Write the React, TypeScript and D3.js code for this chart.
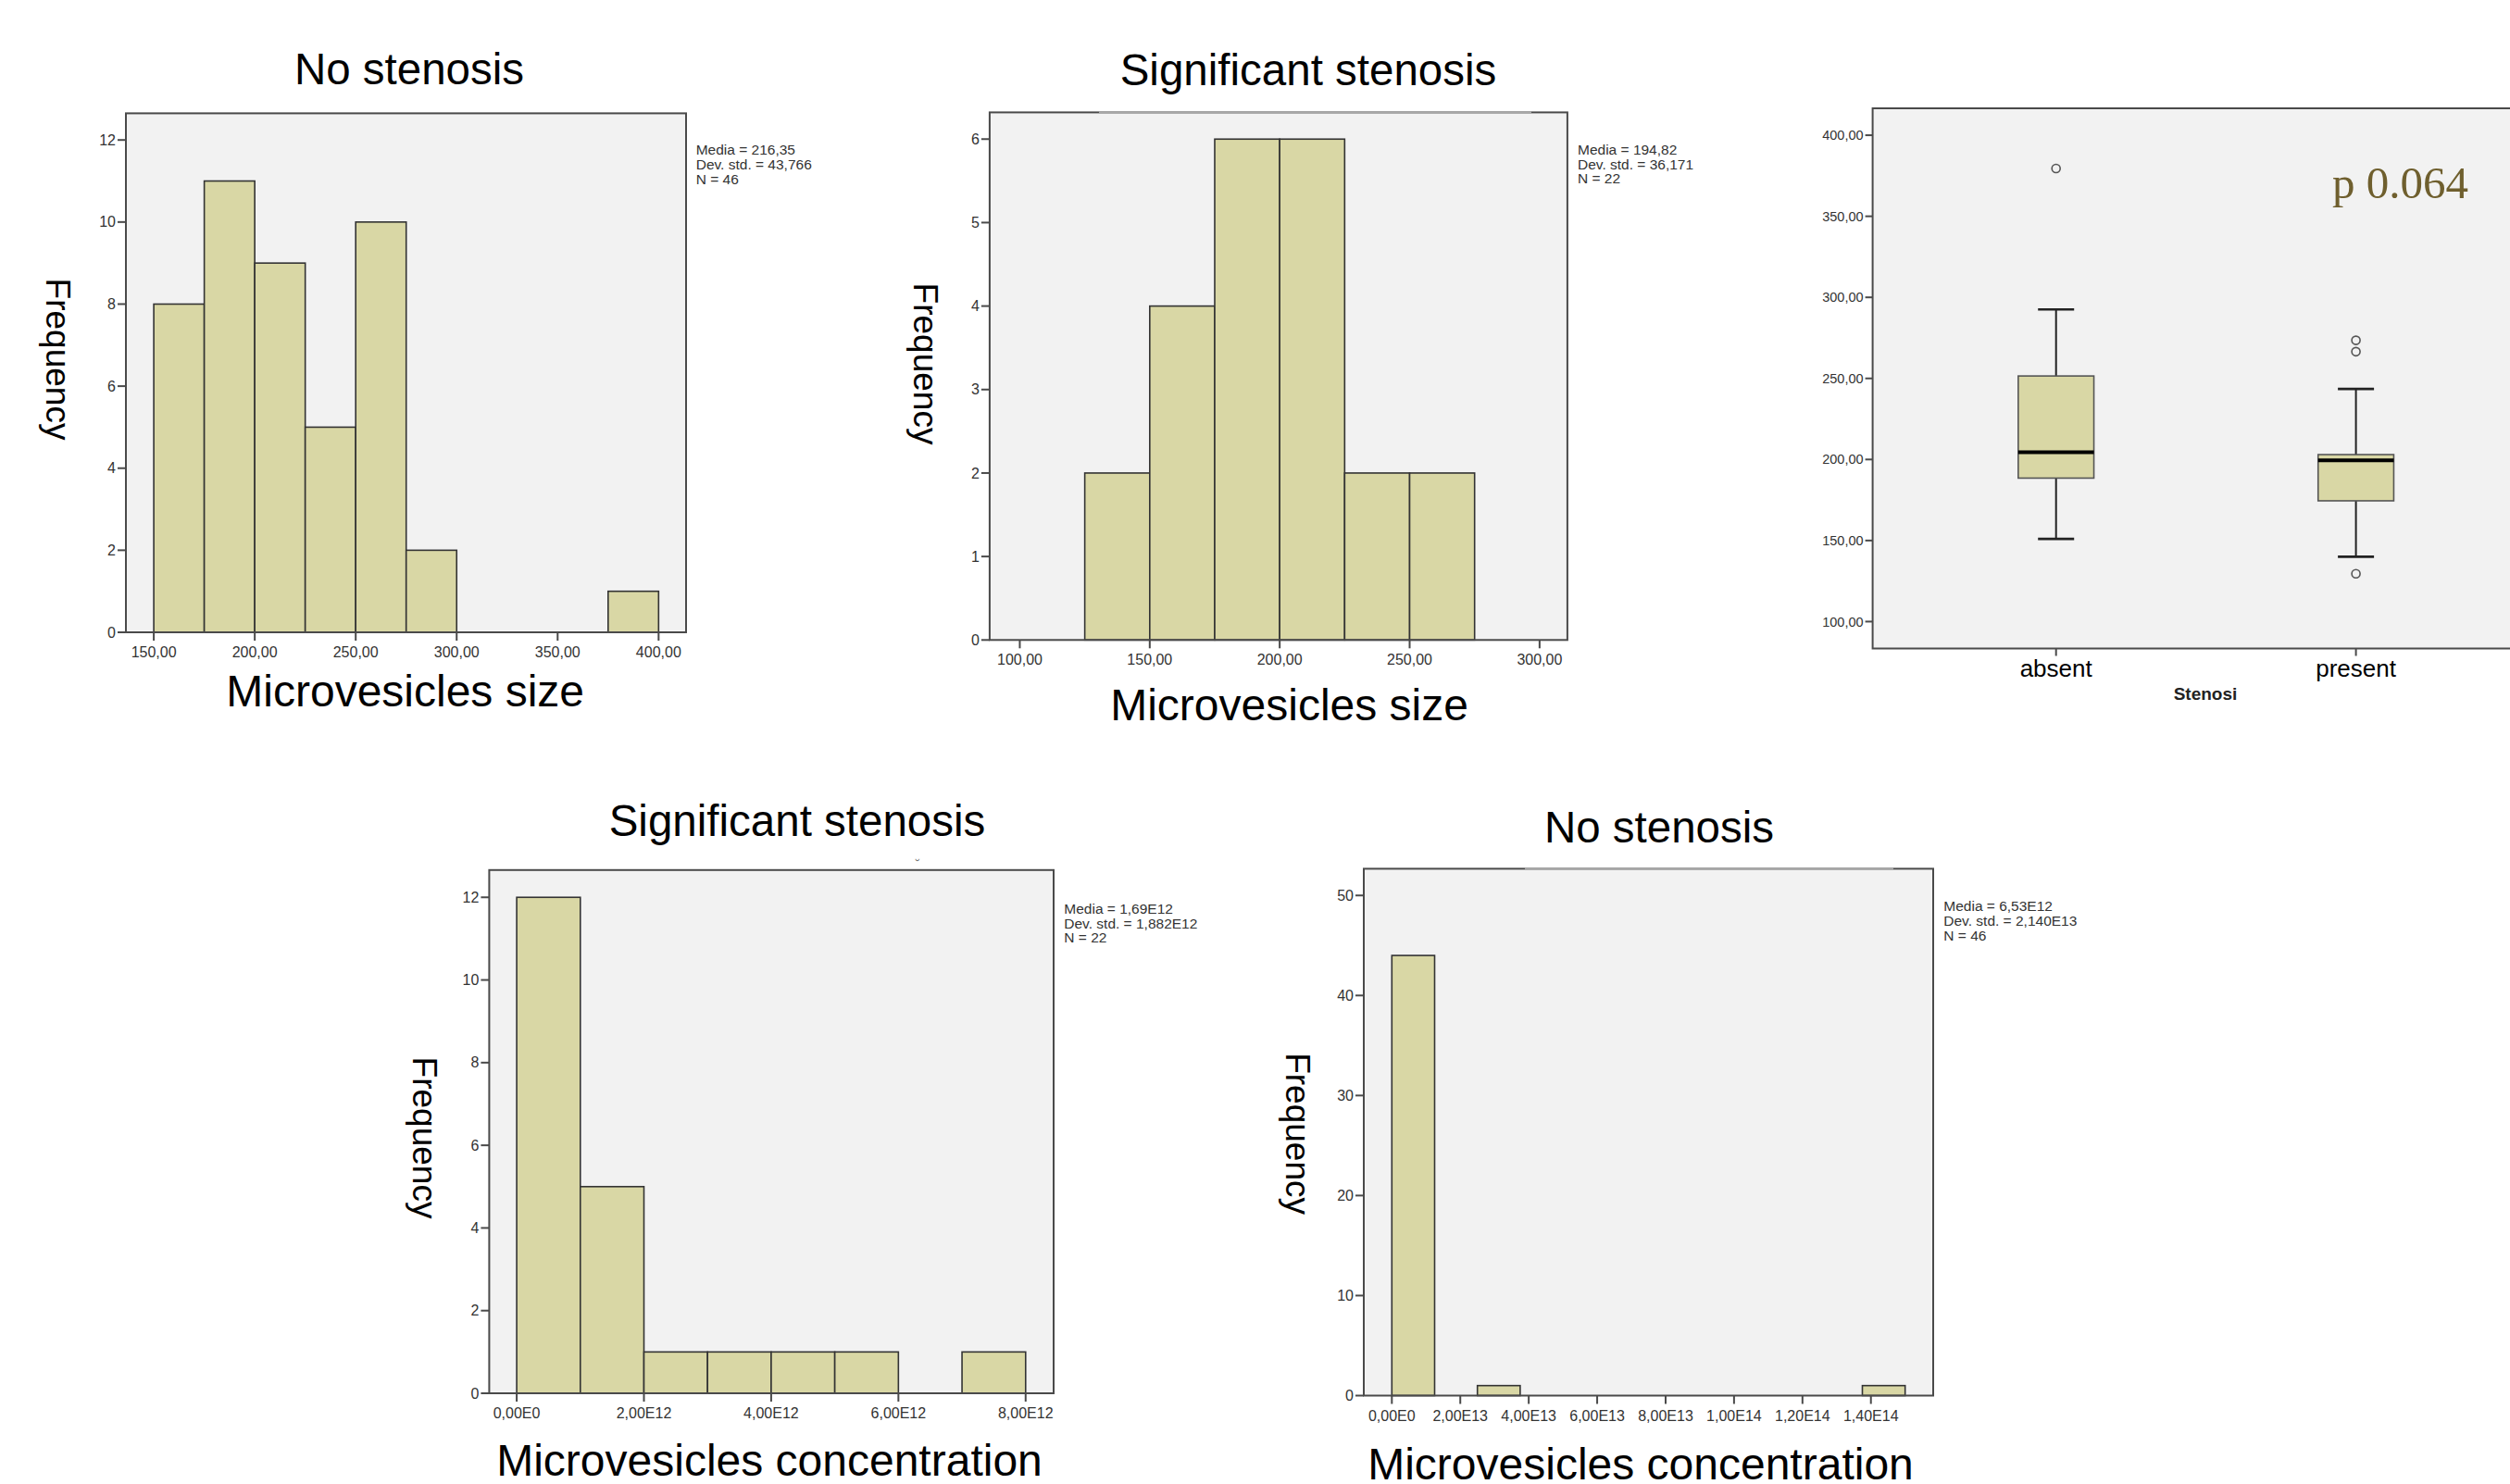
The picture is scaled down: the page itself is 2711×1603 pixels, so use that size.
import React from 'react';
import * as d3 from 'd3';

// --- data ---

// microvesicles size, no stenosis
const sizeNoStenosisEdges = [150, 175, 200, 225, 250, 275, 300, 325, 350, 375, 400];
const sizeNoStenosisCounts = [8, 11, 9, 5, 10, 2, 0, 0, 0, 1];
const sizeNoStenosisXTicks = [150, 200, 250, 300, 350, 400];
const sizeNoStenosisYTicks = [0, 2, 4, 6, 8, 10, 12];
const sizeNoStenosisStats = ['Media = 216,35', 'Dev. std. = 43,766', 'N = 46'];

// microvesicles size, significant stenosis
const sizeStenosisEdges = [125, 150, 175, 200, 225, 250, 275];
const sizeStenosisCounts = [2, 4, 6, 6, 2, 2];
const sizeStenosisXTicks = [100, 150, 200, 250, 300];
const sizeStenosisYTicks = [0, 1, 2, 3, 4, 5, 6];
const sizeStenosisStats = ['Media = 194,82', 'Dev. std. = 36,171', 'N = 22'];

// concentration, significant stenosis (units of 1E12)
const concStenosisEdges = [0, 1, 2, 3, 4, 5, 6, 7, 8];
const concStenosisCounts = [12, 5, 1, 1, 1, 1, 0, 1];
const concStenosisXTicks = [0, 2, 4, 6, 8];
const concStenosisXLabels = ['0,00E0', '2,00E12', '4,00E12', '6,00E12', '8,00E12'];
const concStenosisYTicks = [0, 2, 4, 6, 8, 10, 12];
const concStenosisStats = ['Media = 1,69E12', 'Dev. std. = 1,882E12', 'N = 22'];

// concentration, no stenosis (units of 1E13)
const concNoStenosisEdges = [0, 1.25, 2.5, 3.75, 5, 6.25, 7.5, 8.75, 10, 11.25, 12.5, 13.75, 15];
const concNoStenosisCounts = [44, 0, 1, 0, 0, 0, 0, 0, 0, 0, 0, 1];
const concNoStenosisXTicks = [0, 2, 4, 6, 8, 10, 12, 14];
const concNoStenosisXLabels = ['0,00E0', '2,00E13', '4,00E13', '6,00E13', '8,00E13', '1,00E14', '1,20E14', '1,40E14'];
const concNoStenosisYTicks = [0, 10, 20, 30, 40, 50];
const concNoStenosisStats = ['Media = 6,53E12', 'Dev. std. = 2,140E13', 'N = 46'];

// boxplot by stenosis
const stenosisGroups = ['absent', 'present'];
const boxMin = [151, 140];
const boxQ1 = [188.5, 174.5];
const boxMedian = [204.5, 199.5];
const boxQ3 = [251.5, 203];
const boxMax = [292.5, 243.5];
const boxOutliers = [[379.5], [273.5, 266.5, 129.5]];
const boxYTicks = [100, 150, 200, 250, 300, 350, 400];

const SANS = "'Liberation Sans', Arial, Helvetica, sans-serif";
const BAR_FILL = '#d9d7a5';
const PLOT_BG = '#f2f2f2';
const FRAME = '#4a4a4a';

const sizeLabel = (v: number) => `${v},00`;

type Layout = {
  left: number; right: number; top: number; bottom: number;
  xDomain: [number, number]; yMax: number;
  titleX: number; titleY: number;
  freqX: number; freqY: number;
  xTitleX: number; xTitleY: number;
  statsX: number; statsY: number;
  gap?: [number, number];
};

function Histogram(props: {
  layout: Layout; title: string; xTitle: string;
  edges: number[]; counts: number[];
  xTicks: number[]; xLabels: string[]; yTicks: number[]; stats: string[];
}) {
  const { layout: L, edges, counts, xTicks, xLabels, yTicks, stats } = props;
  const x = d3.scaleLinear().domain(L.xDomain).range([L.left, L.right]);
  const y = d3.scaleLinear().domain([0, L.yMax]).range([L.bottom, L.top]);
  const bins = counts
    .map((c, i) => ({ x0: edges[i], x1: edges[i + 1], c }))
    .filter(b => b.c > 0);

  return (
    <g fontFamily={SANS}>
      <rect x={L.left} y={L.top} width={L.right - L.left} height={L.bottom - L.top} fill={PLOT_BG} />
      {bins.map((b, i) => (
        <rect key={i} x={x(b.x0)} y={y(b.c)} width={x(b.x1) - x(b.x0)} height={y(0) - y(b.c)}
          fill={BAR_FILL} stroke="#333" strokeWidth={1.6} />
      ))}
      <rect x={L.left} y={L.top} width={L.right - L.left} height={L.bottom - L.top}
        fill="none" stroke={FRAME} strokeWidth={2} />
      {L.gap && (
        <line x1={L.gap[0]} x2={L.gap[1]} y1={L.top} y2={L.top} stroke="#a8a8a8" strokeWidth={2.2} />
      )}
      {yTicks.map(v => (
        <g key={'y' + v}>
          <line x1={L.left - 9} x2={L.left} y1={y(v)} y2={y(v)} stroke={FRAME} strokeWidth={2} />
          <text x={L.left - 11} y={y(v)} dy="0.35em" textAnchor="end" fontSize={16} fill="#333">{v}</text>
        </g>
      ))}
      {xTicks.map((v, i) => (
        <g key={'x' + v}>
          <line x1={x(v)} x2={x(v)} y1={L.bottom} y2={L.bottom + 9} stroke={FRAME} strokeWidth={2} />
          <text x={x(v)} y={L.bottom + 27} textAnchor="middle" fontSize={16} fill="#333">{xLabels[i]}</text>
        </g>
      ))}
      {stats.map((s, i) => (
        <text key={s} x={L.statsX} y={L.statsY + i * 15.8} fontSize={15.5} fill="#333">{s}</text>
      ))}
      <text x={L.titleX} y={L.titleY} textAnchor="middle" fontSize={47.5} fill="#000">{props.title}</text>
      <text transform={`translate(${L.freqX},${L.freqY}) rotate(90)`} textAnchor="middle" dy="0.35em"
        fontSize={37} fill="#000">Frequency</text>
      <text x={L.xTitleX} y={L.xTitleY} textAnchor="middle" fontSize={48} fill="#000">{props.xTitle}</text>
    </g>
  );
}

function BoxPlot() {
  const left = 2022.6, right = 2712, top = 117, bottom = 700.5;
  const y = d3.scaleLinear().domain([83.4, 416.6]).range([bottom, top]);
  const x = d3.scalePoint<string>().domain(stenosisGroups).range([2220.7, 2544.6]);
  const boxW = 81.7;
  const capW = 39;

  return (
    <g fontFamily={SANS}>
      <rect x={left} y={top} width={right - left} height={bottom - top} fill={PLOT_BG} stroke={FRAME} strokeWidth={2} />
      {boxYTicks.map(v => (
        <g key={v}>
          <line x1={left - 8} x2={left} y1={y(v)} y2={y(v)} stroke={FRAME} strokeWidth={2} />
          <text x={left - 10} y={y(v)} dy="0.35em" textAnchor="end" fontSize={14.5} fill="#333">{sizeLabel(v)}</text>
        </g>
      ))}
      {stenosisGroups.map((g, i) => {
        const cx = x(g) as number;
        return (
          <g key={g}>
            <line x1={cx} x2={cx} y1={y(boxMax[i])} y2={y(boxQ3[i])} stroke="#222" strokeWidth={2} />
            <line x1={cx} x2={cx} y1={y(boxQ1[i])} y2={y(boxMin[i])} stroke="#222" strokeWidth={2} />
            <line x1={cx - capW / 2} x2={cx + capW / 2} y1={y(boxMax[i])} y2={y(boxMax[i])} stroke="#222" strokeWidth={2.6} />
            <line x1={cx - capW / 2} x2={cx + capW / 2} y1={y(boxMin[i])} y2={y(boxMin[i])} stroke="#222" strokeWidth={2.6} />
            <rect x={cx - boxW / 2} y={y(boxQ3[i])} width={boxW} height={y(boxQ1[i]) - y(boxQ3[i])}
              fill={BAR_FILL} stroke="#555" strokeWidth={1.6} />
            <line x1={cx - boxW / 2} x2={cx + boxW / 2} y1={y(boxMedian[i])} y2={y(boxMedian[i])} stroke="#000" strokeWidth={4} />
            {boxOutliers[i].map(o => (
              <circle key={o} cx={cx} cy={y(o)} r={4.5} fill="none" stroke="#555" strokeWidth={1.6} />
            ))}
            <line x1={cx} x2={cx} y1={bottom} y2={bottom + 8} stroke={FRAME} strokeWidth={2} />
            <text x={cx} y={731} textAnchor="middle" fontSize={26} fill="#000">{g}</text>
          </g>
        );
      })}
      <text x={2382} y={756} textAnchor="middle" fontSize={19} fontWeight="bold" fill="#222">Stenosi</text>
      <text x={2519} y={214} fontSize={49} fontFamily="'Liberation Serif', 'Times New Roman', serif" fill="#6f5f2e">p 0.064</text>
    </g>
  );
}

export default function App() {
  return (
    <svg width={2711} height={1603} style={{ position: 'absolute', left: 0, top: 0, background: '#fff' }}>
      <Histogram
        title="No stenosis" xTitle="Microvesicles size"
        edges={sizeNoStenosisEdges} counts={sizeNoStenosisCounts}
        xTicks={sizeNoStenosisXTicks} xLabels={sizeNoStenosisXTicks.map(sizeLabel)}
        yTicks={sizeNoStenosisYTicks} stats={sizeNoStenosisStats}
        layout={{
          left: 136, right: 741, top: 122.4, bottom: 683,
          xDomain: [136.2, 413.6], yMax: 12.65,
          titleX: 442, titleY: 91, freqX: 63, freqY: 388,
          xTitleX: 437.7, xTitleY: 763,
          statsX: 751.7, statsY: 167,
        }}
      />
      <Histogram
        title="Significant stenosis" xTitle="Microvesicles size"
        edges={sizeStenosisEdges} counts={sizeStenosisCounts}
        xTicks={sizeStenosisXTicks} xLabels={sizeStenosisXTicks.map(sizeLabel)}
        yTicks={sizeStenosisYTicks} stats={sizeStenosisStats}
        layout={{
          left: 1068.9, right: 1692.9, top: 121.4, bottom: 691.3,
          xDomain: [88.4, 310.7], yMax: 6.32,
          titleX: 1413, titleY: 92, freqX: 999.5, freqY: 393,
          xTitleX: 1392.6, xTitleY: 778,
          statsX: 1704, statsY: 166.7, gap: [1187, 1654],
        }}
      />
      <BoxPlot />
      <Histogram
        title="Significant stenosis" xTitle="Microvesicles concentration"
        edges={concStenosisEdges} counts={concStenosisCounts}
        xTicks={concStenosisXTicks} xLabels={concStenosisXLabels}
        yTicks={concStenosisYTicks} stats={concStenosisStats}
        layout={{
          left: 528.4, right: 1138, top: 939.8, bottom: 1505,
          xDomain: [-0.432, 8.44], yMax: 12.66,
          titleX: 861, titleY: 902.8, freqX: 458.8, freqY: 1229,
          xTitleX: 831, xTitleY: 1594,
          statsX: 1149.3, statsY: 986.7,
        }}
      />
      <text x={991} y={939} textAnchor="middle" fontSize={14} fill="#777" fontFamily={SANS}>˘</text>
      <Histogram
        title="No stenosis" xTitle="Microvesicles concentration"
        edges={concNoStenosisEdges} counts={concNoStenosisCounts}
        xTicks={concNoStenosisXTicks} xLabels={concNoStenosisXLabels}
        yTicks={concNoStenosisYTicks} stats={concNoStenosisStats}
        layout={{
          left: 1473, right: 2088, top: 938.4, bottom: 1507.5,
          xDomain: [-0.82, 15.82], yMax: 52.67,
          titleX: 1792, titleY: 910, freqX: 1401.5, freqY: 1224.6,
          xTitleX: 1772, xTitleY: 1598,
          statsX: 2099.3, statsY: 984, gap: [1647, 2045],
        }}
      />
    </svg>
  );
}
